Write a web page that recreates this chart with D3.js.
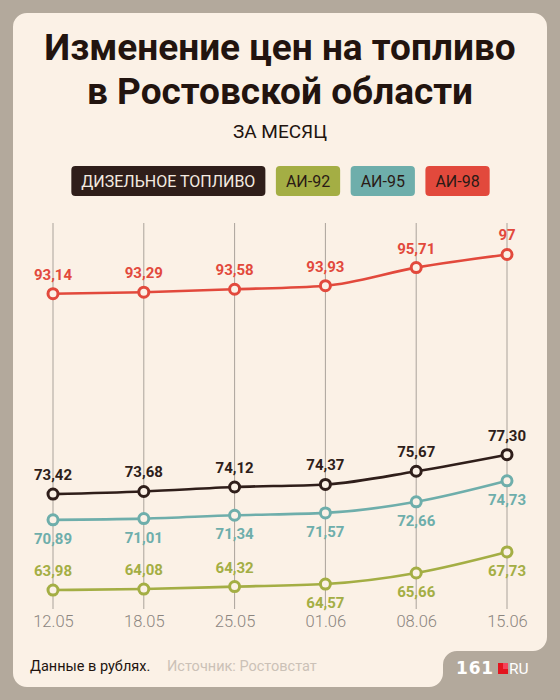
<!DOCTYPE html>
<html>
<head>
<meta charset="utf-8">
<script src="https://cdn.jsdelivr.net/npm/d3@7"></script>
<style>
html,body{margin:0;padding:0;background:#b3a99c;}
svg{display:block;font-family:Roboto, "Noto Sans", sans-serif;}
</style>
</head>
<body>
<script>
const dates = ["12.05","18.05","25.05","01.06","08.06","15.06"];
const diesel = [73.42,73.68,74.12,74.37,75.67,77.30];
const ai92 = [63.98,64.08,64.32,64.57,65.66,67.73];
const ai95 = [70.89,71.01,71.34,71.57,72.66,74.73];
const ai98 = [93.14,93.29,93.58,93.93,95.71,97.00];
const seriesNames = ["ДИЗЕЛЬНОЕ ТОПЛИВО","АИ-92","АИ-95","АИ-98"];
const colors = ["#2f1e1a","#a4ae44","#6eaeab","#e2493c"];
const pillText = ["#f4ebe1","#2a1a15","#2a1a15","#2a1a15"];
// label placement: -1 above, +1 below
const labelPos = [
  [-1,-1,-1,-1,-1,-1],
  [-1,-1,-1,1,1,1],
  [1,1,1,1,1,1],
  [-1,-1,-1,-1,-1,-1]
];
const seriesValues = [diesel, ai92, ai95, ai98];

const W = 560, H = 700;
const bg = "#b3a99c", card = "#fbf1e6";
const svg = d3.select("body").append("svg").attr("width", W).attr("height", H);
svg.append("rect").attr("width", W).attr("height", H).attr("fill", bg);

// card path with notch at bottom right
const p = d3.path();
p.moveTo(27,13); p.lineTo(533,13);
p.arcTo(547,13,547,27,14);
p.lineTo(547,637);
p.arcTo(547,651,533,651,14);
p.lineTo(457,651);
p.arcTo(443,651,443,665,14);
p.lineTo(443,673);
p.arcTo(443,687,429,687,14);
p.lineTo(27,687);
p.arcTo(13,687,13,673,14);
p.lineTo(13,27);
p.arcTo(13,13,27,13,14);
p.closePath();
svg.append("path").attr("d", p.toString()).attr("fill", card);

// Title
const title = svg.append("text").attr("text-anchor","middle").attr("fill","#22140f")
  .attr("font-weight",700).attr("font-size",37);
title.append("tspan").attr("x",280).attr("y",60).text("Изменение цен на топливо");
title.append("tspan").attr("x",280).attr("y",104).text("в Ростовской области");
svg.append("text").attr("x",280).attr("y",138).attr("text-anchor","middle")
  .attr("font-size",19).attr("fill","#22140f").text("ЗА МЕСЯЦ");

// Legend pills
const legend = svg.append("g");
const pad = 10, gap = 10.5;
const items = seriesNames.map((n,i)=>{
  const g = legend.append("g");
  const r = g.append("rect").attr("y",166).attr("height",30).attr("rx",4).attr("fill",colors[i]);
  const t = g.append("text").attr("y",187).attr("font-size",16).attr("fill",pillText[i]).text(n);
  const w = t.node().getComputedTextLength();
  return {g, r, t, w: w + 2*pad};
});
const total = d3.sum(items, d=>d.w) + gap*(items.length-1);
let cx = 280.5 - total/2;
items.forEach(it=>{
  it.r.attr("x", cx).attr("width", it.w);
  it.t.attr("x", cx + pad);
  cx += it.w + gap;
});

// Scales
const x = d3.scalePoint().domain(dates).range([53,507]);
const y = d3.scaleLinear().domain([60,100]).range([630.5,224]);

// Gridlines
const grid = svg.append("g");
grid.selectAll("line").data(dates).join("line")
  .attr("x1",d=>x(d)).attr("x2",d=>x(d))
  .attr("y1",223).attr("y2",609)
  .attr("stroke","#aaa39b").attr("stroke-width",1);

// X axis labels
const xAxis = d3.axisBottom(x).tickSize(0).tickPadding(0);
const ax = svg.append("g").attr("transform","translate(0,615)").call(xAxis);
ax.select(".domain").remove();
ax.selectAll("text").attr("font-size",16.5).attr("font-weight",300)
  .attr("fill","#8b857f").attr("font-family","Roboto, sans-serif").attr("dy","0.72em");

// Lines
const line = d3.line().x((d,i)=>x(dates[i])).y(d=>y(d)).curve(d3.curveMonotoneX);
const fmt = v => v === Math.round(v) ? String(v) : v.toFixed(2).replace(".",",");

seriesValues.forEach((vals, si)=>{
  const g = svg.append("g");
  g.append("path").attr("d", line(vals)).attr("fill","none")
    .attr("stroke",colors[si]).attr("stroke-width",2.6);
  g.selectAll("circle").data(vals).join("circle")
    .attr("cx",(d,i)=>x(dates[i])).attr("cy",d=>y(d)).attr("r",5)
    .attr("fill",card).attr("stroke",colors[si]).attr("stroke-width",3);
  g.selectAll("text").data(vals).join("text")
    .attr("x",(d,i)=>x(dates[i]))
    .attr("y",(d,i)=> y(d) + (labelPos[si][i] < 0 ? -14 : 24))
    .attr("text-anchor","middle").attr("font-size",15).attr("font-weight",700)
    .attr("fill",colors[si]).text(d=>fmt(d));
});

// Footer
svg.append("text").attr("x",30).attr("y",671).attr("font-size",14.5).attr("fill","#22140f")
  .text("Данные в рублях.");
svg.append("text").attr("x",167).attr("y",671).attr("font-size",14.5).attr("fill","#cbc1b7")
  .text("Источник: Ростовстат");

// Logo
const logo = svg.append("g");
logo.append("text").attr("x",456).attr("y",674).attr("font-size",17).attr("font-weight",900)
  .attr("font-family","'DejaVu Sans', sans-serif").attr("fill","#ffffff").attr("letter-spacing",0.8).text("161");
logo.append("rect").attr("x",498).attr("y",663).attr("width",10).attr("height",11).attr("fill","#e3141e");
logo.append("rect").attr("x",503).attr("y",663).attr("width",5).attr("height",6).attr("fill","#f4435a");
logo.append("text").attr("x",509).attr("y",674).attr("font-size",15.5).attr("fill","#ffffff").text("RU");
</script>
</body>
</html>
